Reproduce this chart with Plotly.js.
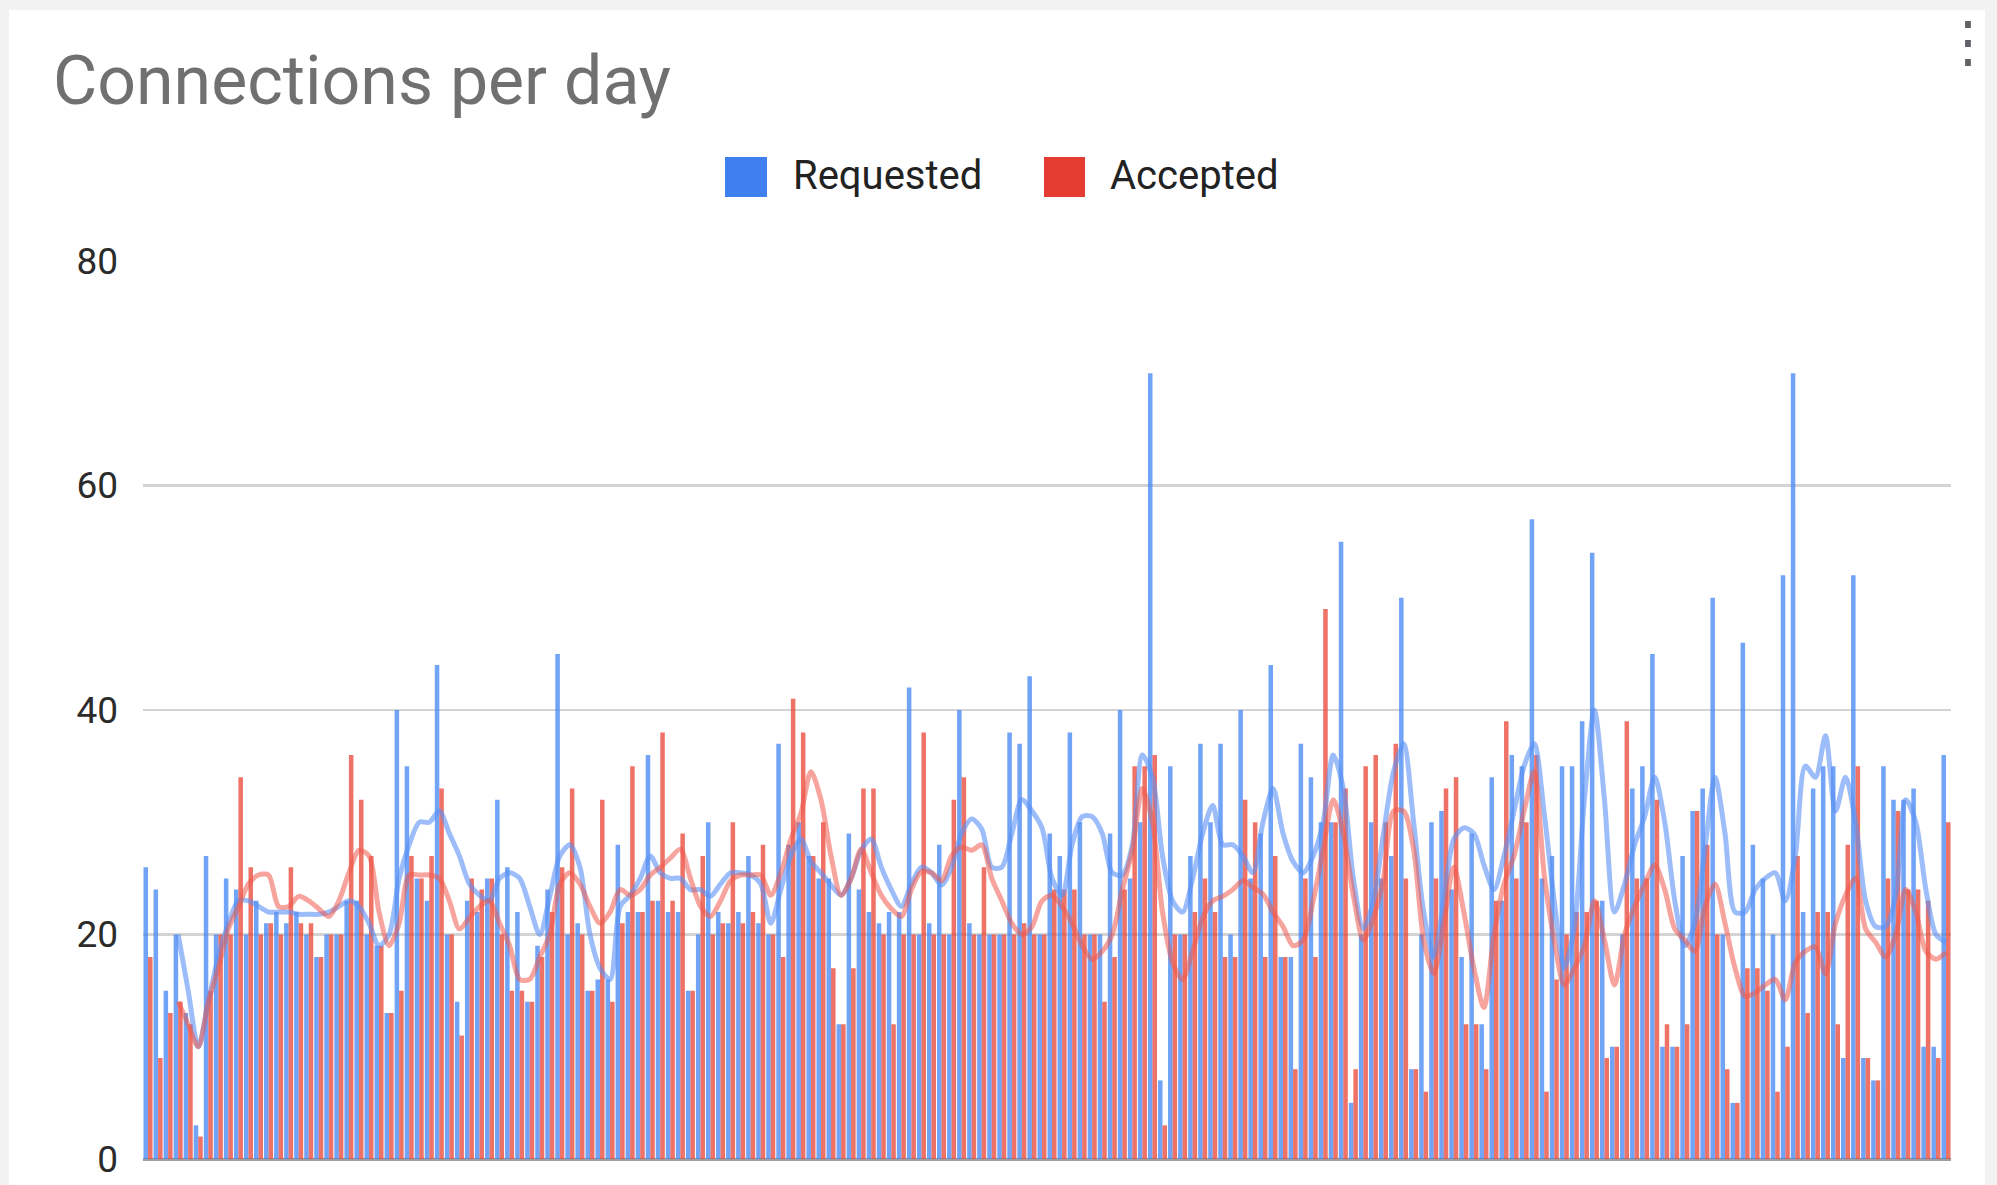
<!DOCTYPE html>
<html>
<head>
<meta charset="utf-8">
<script src="https://cdn.plot.ly/plotly-3.0.1.min.js"></script>
<style>
  html, body { margin: 0; padding: 0; background: #f2f2f2; width: 1997px; height: 1185px; overflow: hidden; }
  #chart { position: absolute; left: 0; top: 0; width: 1997px; height: 1185px; }
</style>
</head>
<body>
<div id="chart"></div>
<script>
// ---- data ----
const chartTitle = "Connections per day";
const seriesNames = ["Requested", "Accepted"];
const yTicks = [0, 20, 40, 60, 80];

const requested = [
  26,24,15,20,13,3,27,20,25,24,
  20,23,21,22,21,22,20,18,20,20,
  23,23,20,19,13,40,35,25,23,44,
  20,14,23,22,25,32,26,22,14,19,
  24,45,20,21,15,16,16,28,22,22,
  36,23,22,22,15,20,30,22,21,22,
  27,21,20,37,28,30,27,25,25,12,
  29,24,22,21,22,22,42,20,21,28,
  20,40,21,20,20,20,38,37,43,20,
  29,27,38,30,20,20,29,40,25,30,
  70,7,35,20,27,37,30,37,20,40,
  25,29,44,18,18,37,34,30,30,55,
  5,20,30,25,27,50,8,20,30,31,
  24,18,29,12,34,23,36,35,57,25,
  27,35,35,39,54,23,10,20,33,35,
  45,10,10,27,31,33,50,20,5,46,
  28,25,20,52,70,22,33,35,35,9,
  52,9,7,35,32,32,33,10,10,36
];
const accepted = [
  18,9,13,14,12,2,15,20,20,34,
  26,20,21,20,26,21,21,18,20,20,
  36,32,27,19,13,15,27,25,27,33,
  20,11,25,24,25,20,15,15,14,18,
  22,26,33,20,15,32,14,21,35,22,
  23,38,23,29,15,27,20,21,30,21,
  22,28,20,18,41,38,27,30,17,12,
  17,33,33,20,12,20,20,38,20,20,
  32,34,20,26,20,20,20,21,20,20,
  24,24,24,20,20,14,18,24,35,35,
  36,3,20,20,22,25,22,18,18,32,
  30,18,27,18,8,25,18,49,30,33,
  8,35,36,30,37,25,8,6,25,33,
  34,12,12,8,23,39,25,30,36,6,
  16,20,22,22,23,9,10,39,25,25,
  32,12,10,12,31,28,20,8,5,17,
  17,15,6,10,27,13,22,22,12,28,
  35,9,7,25,31,24,24,23,9,30
];
// trend lines as they appear in the picture
const requestedTrend = [
  null,null,null,20,15,10,14,18,21,23,
  23,22.5,22,22,22,21.8,21.8,21.8,22,22.5,
  23,22.5,21,19,20,25,28,30,30,31,
  29,27,24.5,23.5,23,25,25.5,25,22.5,20,
  23.4,27,28,26,20,17,16,22.5,23.5,25,
  27,25.5,25,25,24,24,23.4,24.5,25.5,25.5,
  25.3,24.5,21,24,27,28.5,26.5,25.5,24.4,23.5,
  25,27.5,28.5,26,24,22.5,24.5,26,25.5,24.4,
  26,29,30.3,29.4,26,26,29,32,31,29.5,
  25,23.5,28,30.5,30.5,29,25.5,25.3,28,36,
  34,27,23,22,25,29,31.5,28,28,27,
  25.5,30,33,29,26.5,25.5,27,30,36,33,
  25,20.5,23,29,34.5,37,30,22,18,23,
  28.5,29.5,29,26.2,24,27,31,35,37,30.8,
  23,17,20.7,32,40,32,22,24.5,28,30.5,
  34,30,23,19,21,27.6,34,29,22,22,
  24,25,25.5,23,27,35,34,37.7,31,34,
  30,23,20.7,20.7,23.5,32,30,24,20,19.3
];
const acceptedTrend = [
  null,null,null,14,12,10,14,17,20.5,22.5,
  24.5,25.3,25.3,22.5,22.5,23.4,23,22.3,21.6,23,
  25.5,27.5,27,22,19,21,25.3,25.3,25.3,25,
  23,20.5,21.5,22.5,23,21,19,16,16,18,
  20,24.5,25.5,24.5,22.5,21,22,24,23.5,24,
  25.3,26,26.8,27.6,25,22.5,21.6,23,24.8,25.3,
  25.3,25.3,23.5,25.5,28.5,30.8,34.5,32,27,23.5,
  25,27.6,25.5,23.5,22.3,21.6,24,25.6,25.5,24.8,
  27,27.8,27.5,28,25,23,21,20,20.7,23,
  23.5,22.5,21,19,17.8,18.5,20,24,27.5,33,
  30,22,17.5,16,18.5,21.5,23,23.4,24,24.8,
  24.2,23.6,22,20.7,19,19.5,23,27.6,32,29,
  23.5,19.5,21.5,25,31,31,27.6,19.5,16.5,21,
  26,22,17,13.5,20,24.5,27,31,34.5,25.3,
  19.5,15.5,17,19,23,19.5,15.5,20,22.5,24.5,
  26.2,24,20.5,19.5,18.5,22.5,24.5,21,17,14.5,
  14.8,15.5,16,14.2,17.5,18.5,18.9,16.5,21,23.5,
  25,20.5,19.3,18,20,24,22,18.5,17.8,18.4
];
const days = requested.map((_, i) => i + 1);

// ---- styling ----
const BLUE = "#4285f4", RED = "#ea4335";
const FONT = "Roboto, Arial, sans-serif";

const traces = [
  { type: "bar", name: seriesNames[0], x: days, y: requested,
    marker: { color: BLUE, line: { width: 0 } }, opacity: 0.75, showlegend: false, hoverinfo: "skip" },
  { type: "bar", name: seriesNames[1], x: days, y: accepted,
    marker: { color: RED, line: { width: 0 } }, opacity: 0.75, showlegend: false, hoverinfo: "skip" },
  { type: "scatter", mode: "lines", x: days, y: requestedTrend,
    line: { color: "rgba(90,145,245,0.6)", width: 5, shape: "spline", smoothing: 0.8 },
    showlegend: false, hoverinfo: "skip", connectgaps: false },
  { type: "scatter", mode: "lines", x: days, y: acceptedTrend,
    line: { color: "rgba(238,90,76,0.55)", width: 5, shape: "spline", smoothing: 0.8 },
    showlegend: false, hoverinfo: "skip", connectgaps: false }
];

// plot area in page pixels: x 143..1951, y 261..1159
const X0 = 143, XW = 1808, YB = 1159, YH = 898;
const px = v => (v - X0) / XW, py = v => (YB - v) / YH;

const layout = {
  width: 1997, height: 1185,
  margin: { l: 143, r: 46, t: 261, b: 26, pad: 0 },
  paper_bgcolor: "#f2f2f2", plot_bgcolor: "#ffffff",
  barmode: "group", bargap: 0.1, bargroupgap: 0,
  font: { family: FONT, color: "#333" },
  title: {
    text: chartTitle, xref: "container", yref: "container",
    x: 53 / 1997, xanchor: "left", y: 1 - 80 / 1185, yanchor: "middle",
    font: { family: FONT, size: 68, color: "#707070" }
  },
  xaxis: {
    type: "category", showticklabels: false, showgrid: false, zeroline: false,
    ticks: "", showline: false, range: [-0.5, days.length - 0.5], fixedrange: true
  },
  yaxis: {
    range: [0, 80], tickvals: yTicks, ticktext: yTicks.map(String),
    showgrid: true, gridcolor: "#d4d4d4", gridwidth: 2.5,
    zeroline: true, zerolinecolor: "#9e9e9e", zerolinewidth: 3,
    ticks: "", showline: false, ticklabelstandoff: 24,
    tickfont: { family: FONT, size: 37, color: "#2b2b2b" },
    fixedrange: true
  },
  shapes: [
    // white chart card
    { type: "rect", xref: "paper", yref: "paper", layer: "below",
      x0: px(9), x1: px(1985), y0: py(1185), y1: py(10),
      fillcolor: "#ffffff", line: { width: 0 } },
    // legend swatches
    { type: "rect", xref: "paper", yref: "paper",
      x0: px(725), x1: px(767), y0: py(197), y1: py(157),
      fillcolor: "#3f7fee", line: { width: 0 } },
    { type: "rect", xref: "paper", yref: "paper",
      x0: px(1044), x1: px(1085), y0: py(197), y1: py(157),
      fillcolor: "#e53d31", line: { width: 0 } }
  ],
  annotations: [
    { xref: "paper", yref: "paper", x: px(791), y: py(176),
      xanchor: "left", yanchor: "middle", showarrow: false, text: seriesNames[0],
      font: { family: FONT, size: 40, color: "#222" } },
    { xref: "paper", yref: "paper", x: px(1108), y: py(176),
      xanchor: "left", yanchor: "middle", showarrow: false, text: seriesNames[1],
      font: { family: FONT, size: 40, color: "#222" } },
    { xref: "paper", yref: "paper", x: px(1968), y: py(42),
      xanchor: "center", yanchor: "middle", showarrow: false, text: "⋮",
      font: { family: "DejaVu Sans, sans-serif", size: 56, color: "#5f6368" } }
  ]
};

Plotly.newPlot("chart", traces, layout, { staticPlot: true, displayModeBar: false });
</script>
</body>
</html>
